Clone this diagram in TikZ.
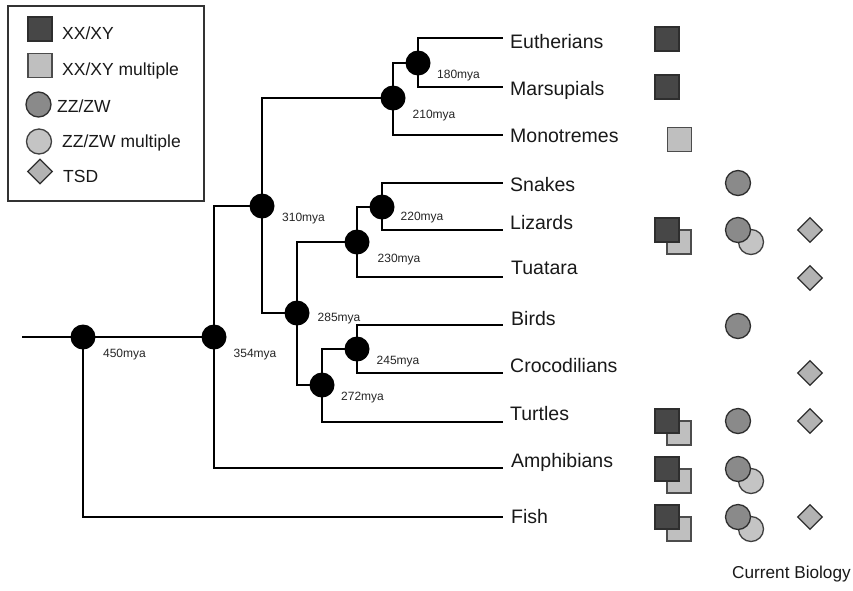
\documentclass[tikz,border=0pt]{standalone}
\usepackage{fontspec}
\setmainfont{Liberation Sans}
\usetikzlibrary{shapes.geometric,backgrounds}
\definecolor{sqdark}{HTML}{474747}
\definecolor{sqlight}{HTML}{BFBFBF}
\definecolor{cidark}{HTML}{8A8A8A}
\definecolor{cilight}{HTML}{C4C4C4}
\definecolor{dmfill}{HTML}{B3B3B3}
\definecolor{edge}{HTML}{2E2E2E}
\tikzset{
  branch/.style={line width=2.7pt, line cap=rect, black},
  split/.style={circle, fill=black, minimum size=25pt, inner sep=0pt},
  age/.style={font=\fontsize{12}{14}\selectfont, inner sep=0pt, text height=8.6pt, text depth=0pt, text=black!85},
  taxon/.style={font=\fontsize{19.5}{22}\selectfont, anchor=west, inner sep=0pt, text height=14pt, text depth=0pt, text=black!90},
  legtext/.style={font=\fontsize{17.5}{20}\selectfont, anchor=west, inner sep=0pt, text height=12.5pt, text depth=0pt, text=black!90},
  xxd/.style={rectangle, draw=edge, line width=1.3pt, fill=sqdark, minimum size=24pt, inner sep=0pt},
  xxl/.style={rectangle, draw=black!70, line width=1.3pt, fill=sqlight, minimum size=24pt, inner sep=0pt},
  zzd/.style={circle, draw=edge, line width=1.3pt, fill=cidark, minimum size=25pt, inner sep=0pt},
  zzl/.style={circle, draw=black!75, line width=1.3pt, fill=cilight, minimum size=25pt, inner sep=0pt},
  tsd/.style={diamond, aspect=1, draw=edge, line width=1.3pt, fill=dmfill, minimum size=25pt, inner sep=0pt},
}
\begin{document}
\begin{tikzpicture}[x=1pt,y=-1pt]
\useasboundingbox (0,0) rectangle (853,590);

% legend
\node[draw=black!80, line width=1.2pt, minimum width=196pt, minimum height=195pt, inner sep=0pt] (legend) at (106,103.5) {};
\node[xxd] (lg1) at (40,29) {};
\node[legtext] (lt1) at (62,33) {XX/XY};
\node[xxl] (lg2) at (40,65.5) {};
\node[legtext] (lt2) at (62,69.5) {XX/XY multiple};
\node[zzd] (lg3) at (38.5,104.5) {};
\node[legtext] (lt3) at (57,106) {ZZ/ZW};
\node[zzl] (lg4) at (39,141.5) {};
\node[legtext] (lt4) at (62,141.5) {ZZ/ZW multiple};
\node[tsd] (lg5) at (40,171.5) {};
\node[legtext] (lt5) at (63,176) {TSD};

% split nodes
\node[split] (n450) at (83,337) {};
\node[split] (n354) at (214,337) {};
\node[split] (n310) at (262,206) {};
\node[split] (n210) at (393,98) {};
\node[split] (n180) at (418,63) {};
\node[split] (n285) at (297,313) {};
\node[split] (n230) at (357,242) {};
\node[split] (n220) at (382,207) {};
\node[split] (n272) at (322,385) {};
\node[split] (n245) at (357,349) {};

% leaf ends
\coordinate (root) at (23,337);
\coordinate (eEut) at (502,38);
\coordinate (eMar) at (502,87);
\coordinate (eMon) at (502,135);
\coordinate (eSna) at (502,183);
\coordinate (eLiz) at (502,230);
\coordinate (eTua) at (502,277);
\coordinate (eBir) at (502,325);
\coordinate (eCro) at (502,373);
\coordinate (eTur) at (502,422);
\coordinate (eAmp) at (502,468);
\coordinate (eFis) at (502,517);

\begin{scope}[on background layer]
\fill[white] (0,0) rectangle (853,590);
\draw[branch] (root) -- (n450.center);
\draw[branch] (n450.center) -- (n354.center);
\draw[branch] (n450.center) |- (eFis);
\draw[branch] (n354.center) |- (n310.center);
\draw[branch] (n354.center) |- (eAmp);
\draw[branch] (n310.center) |- (n210.center);
\draw[branch] (n310.center) |- (n285.center);
\draw[branch] (n210.center) |- (n180.center);
\draw[branch] (n210.center) |- (eMon);
\draw[branch] (n180.center) |- (eEut);
\draw[branch] (n180.center) |- (eMar);
\draw[branch] (n285.center) |- (n230.center);
\draw[branch] (n285.center) |- (n272.center);
\draw[branch] (n230.center) |- (n220.center);
\draw[branch] (n230.center) |- (eTua);
\draw[branch] (n220.center) |- (eSna);
\draw[branch] (n220.center) |- (eLiz);
\draw[branch] (n272.center) |- (n245.center);
\draw[branch] (n272.center) |- (eTur);
\draw[branch] (n245.center) |- (eBir);
\draw[branch] (n245.center) |- (eCro);
\end{scope}

% age labels
\node[age] (a450) at (124.5,353) {450mya};
\node[age] (a354) at (255,353) {354mya};
\node[age] (a310) at (303.5,217) {310mya};
\node[age] (a285) at (339,317) {285mya};
\node[age] (a245) at (398,360) {245mya};
\node[age] (a272) at (362.5,396) {272mya};
\node[age] (a230) at (399,258) {230mya};
\node[age] (a220) at (422,216.5) {220mya};
\node[age] (a210) at (434,114) {210mya};
\node[age] (a180) at (458.5,74) {180mya};

% taxa
\node[taxon] (tEut) at (510,41) {Eutherians};
\node[taxon] (tMar) at (510,88) {Marsupials};
\node[taxon] (tMon) at (510,135) {Monotremes};
\node[taxon] (tSna) at (510,184) {Snakes};
\node[taxon] (tLiz) at (510,222.5) {Lizards};
\node[taxon] (tTua) at (511,267) {Tuatara};
\node[taxon] (tBir) at (511,318) {Birds};
\node[taxon] (tCro) at (510,365) {Crocodilians};
\node[taxon] (tTur) at (510,413) {Turtles};
\node[taxon] (tAmp) at (511,460.5) {Amphibians};
\node[taxon] (tFis) at (511,516) {Fish};

% symbols
\node[xxd] (sEut) at (667,39) {};
\node[xxd] (sMar) at (667,87) {};
\node[xxl] (sMon) at (679.5,139.5) {};
\node[zzd] (cSna) at (738,183) {};
\node[xxl] (sLiz2) at (679,242) {};
\node[xxd] (sLiz) at (667,230) {};
\node[zzl] (cLiz2) at (751,242) {};
\node[zzd] (cLiz) at (738,230) {};
\node[tsd] (dLiz) at (810,230) {};
\node[tsd] (dTua) at (810,278) {};
\node[zzd] (cBir) at (738,326) {};
\node[tsd] (dCro) at (810,373) {};
\node[xxl] (sTur2) at (679,433) {};
\node[xxd] (sTur) at (667,421) {};
\node[zzd] (cTur) at (738,421) {};
\node[tsd] (dTur) at (810,421) {};
\node[xxl] (sAmp2) at (679,481) {};
\node[xxd] (sAmp) at (667,469) {};
\node[zzl] (cAmp2) at (751,481) {};
\node[zzd] (cAmp) at (738,469) {};
\node[xxl] (sFis2) at (679,529) {};
\node[xxd] (sFis) at (667,517) {};
\node[zzl] (cFis2) at (751,529) {};
\node[zzd] (cFis) at (738,517) {};
\node[tsd] (dFis) at (810,517) {};

\node[font=\fontsize{17.2}{20}\selectfont, anchor=west, inner sep=0pt, text height=12.3pt, text depth=0pt, text=black!90] (credit) at (732,572) {Current Biology};
\end{tikzpicture}
\end{document}
